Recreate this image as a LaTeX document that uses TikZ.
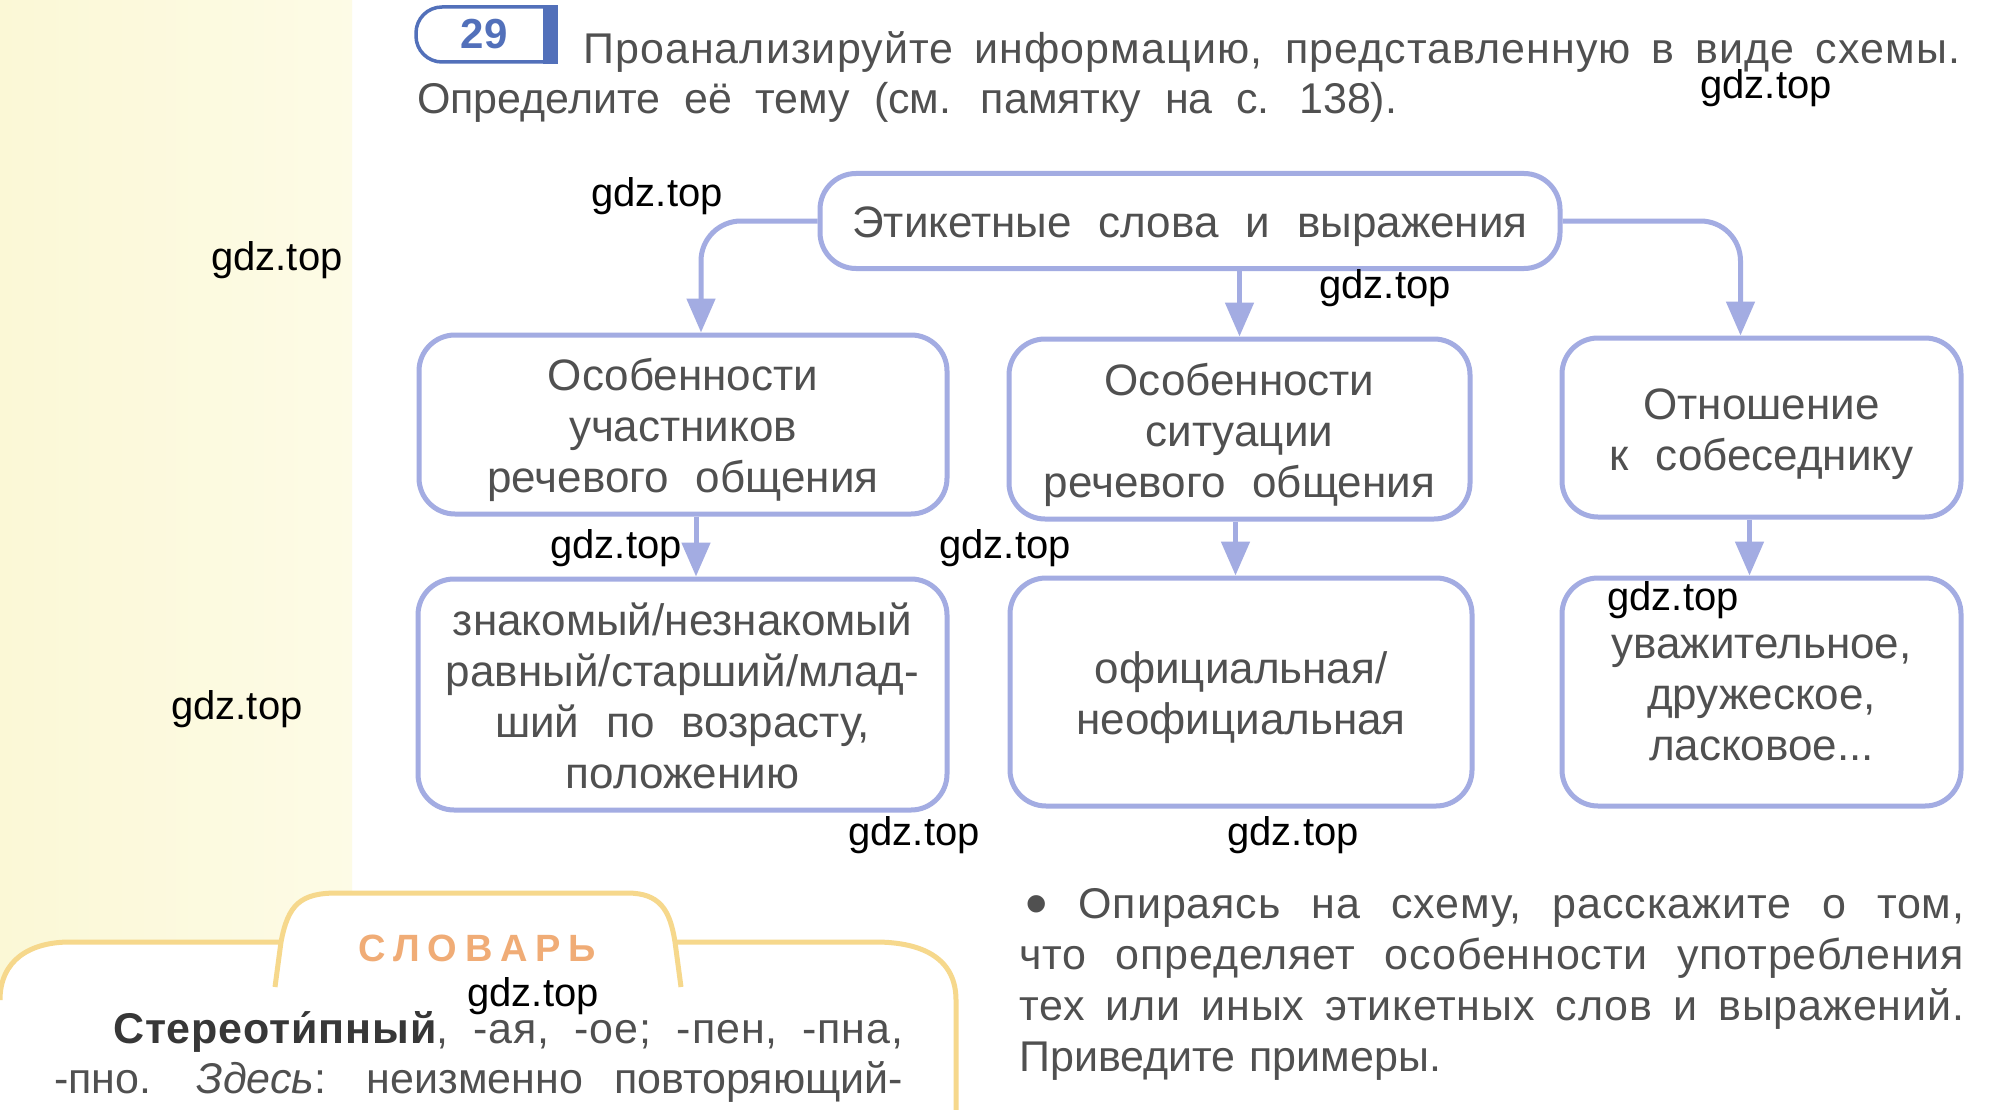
\documentclass[tikz,border=0pt]{standalone}
\usepackage{fontspec}
\setmainfont{Liberation Sans}[WordSpace=2.2]
\newfontfamily\wmfont{Liberation Sans}
\usetikzlibrary{arrows.meta}

\definecolor{boxline}{RGB}{163,172,226}
\definecolor{txt}{RGB}{80,80,80}
\definecolor{boldtxt}{RGB}{55,55,55}
\definecolor{numblue}{RGB}{82,112,186}
\definecolor{slovline}{RGB}{246,216,140}
\definecolor{slovtxt}{RGB}{240,172,118}
\definecolor{stripA}{RGB}{251,248,214}
\definecolor{stripB}{RGB}{253,251,230}
\newcommand\fstrut{\rule{0pt}{50pt}}

\begin{document}
\begin{tikzpicture}[x=1pt,y=-1pt,
  box/.style={draw=boxline, line width=5pt, rounded corners=36pt, inner sep=0pt,
    align=center, text=txt, fill=white, font=\fontsize{44}{51}\selectfont},
  arr/.style={draw=boxline, line width=5pt, rounded corners=40pt,
    -{Triangle[width=28pt,length=34pt]}},
  txtline/.style={anchor=base west, inner sep=0pt, text=txt, font=\fontsize{43}{51}\selectfont},
  wm/.style={inner sep=0pt, text=black, font=\wmfont\fontsize{40}{48}\selectfont},
  slovedge/.style={draw=slovline, line width=5pt}
]
\useasboundingbox (0,0) rectangle (2009,1110);
% background
\fill[white] (0,0) rectangle (2009,1110);
\shade[left color=stripA, right color=stripB] (0,0) rectangle (352,1110);

% dictionary panel
\fill[white] (0,1000) .. controls (0,960) and (30,942) .. (70,942) -- (281,942)
  .. controls (288,905) and (300,893) .. (337,893) -- (627,893)
  .. controls (660,893) and (670,910) .. (675,942) -- (875,942)
  .. controls (925,942) and (956,960) .. (956,1000) -- (956,1110) -- (0,1110) -- cycle;
\draw[slovedge] (0,1000) .. controls (0,960) and (30,942) .. (70,942) -- (279,942);
\draw[slovedge] (275,987) -- (281,942) .. controls (288,905) and (300,893) .. (337,893)
  -- (627,893) .. controls (660,893) and (670,910) .. (675,942) -- (681,987);
\draw[slovedge] (677,942) -- (875,942) .. controls (925,942) and (956,960) .. (956,1000) -- (956,1110);
\node[anchor=base west, inner sep=0pt, text=slovtxt, font=\bfseries\fontsize{38}{38}\selectfont] (slov) at (358,961)
  {\makebox[238pt][s]{С\hfil Л\hfil О\hfil В\hfil А\hfil Р\hfil Ь}};
\node[txtline] (s1) at (113,1043)
  {\makebox[790pt][s]{\addfontfeature{LetterSpace=2}\textbf{\color{boldtxt}Стереоти́пный}, -ая, -ое; -пен, -пна,}};
\node[txtline] (s2) at (54,1093)
  {\makebox[849pt][s]{-пно. \textit{Здесь}: неизменно повторяющий-}};

% exercise number
\draw[numblue, line width=3.5pt, rounded corners=26pt] (550,7) -- (416,7) -- (416,62) -- (550,62);
\fill[numblue] (543,5) rectangle (558,64);
\node[inner sep=0pt, text=numblue, font=\bfseries\fontsize{42}{42}\selectfont] (num) at (484,34) {29};

% title
\node[txtline] (t1) at (583,64)
  {\makebox[1377pt][s]{\addfontfeature{LetterSpace=2.5}Проанализируйте информацию, представленную в виде схемы.}};
\node[txtline] (t2) at (417,114)
  {\makebox[980pt][s]{Определите её тему (см. памятку на с. 138).}};

% scheme
\node[box, minimum width=740pt, minimum height=95pt, text height=40pt, text depth=8pt] (T) at (1190,221)
  {Этикетные слова и выражения};
\node[box, minimum width=528pt, minimum height=179pt] (A) at (683,424.5)
  {\fstrut\strut Особенности\\ \strut участников\\ \strut речевого общения};
\node[box, minimum width=461pt, minimum height=180pt] (B) at (1239.5,429)
  {\fstrut\strut Особенности\\ \strut ситуации\\ \strut речевого общения};
\node[box, minimum width=399pt, minimum height=179pt] (C) at (1761.5,427.5)
  {\fstrut\strut Отношение\\ \strut к собеседнику};
\node[box, minimum width=529pt, minimum height=231pt] (D) at (682.5,694.5)
  {\fstrut\strut знакомый/незнакомый\\ \strut равный/старший/млад-\\ \strut ший по возрасту,\\ \strut положению};
\node[box, minimum width=462pt, minimum height=228pt] (E) at (1241,692)
  {\fstrut\strut официальная/\\ \strut неофициальная};
\node[box, minimum width=399pt, minimum height=228pt] (F) at (1761.5,692)
  {\fstrut\strut уважительное,\\ \strut дружеское,\\ \strut ласковое...};

\draw[arr] (T.west) -| ([xshift=18pt]A.north);
\draw[arr] (T.south -| B.north) -- (B.north);
\draw[arr] (T.east) -| ([xshift=-21pt]C.north);
\draw[arr] ([xshift=13pt]A.south) -- ([xshift=13pt]A.south |- D.north);
\draw[arr] ([xshift=-4pt]B.south) -- ([xshift=-4pt]B.south |- E.north);
\draw[arr] ([xshift=-12pt]C.south) -- ([xshift=-12pt]C.south |- F.north);

% question
\node[txtline] (p1) at (1025,918) {\makebox[939pt][s]{\addfontfeature{LetterSpace=2}\raisebox{-7pt}{\fontsize{64}{64}\selectfont•} Опираясь на схему, расскажите о том,}};
\node[txtline] (p2) at (1019,969) {\makebox[945pt][s]{\addfontfeature{LetterSpace=2}что определяет особенности употребления}};
\node[txtline] (p3) at (1019,1020) {\makebox[945pt][s]{\addfontfeature{LetterSpace=2}тех или иных этикетных слов и выражений.}};
\node[txtline] (p4) at (1019,1071) {Приведите\hspace{14pt}примеры.};

% watermarks
\node[wm] (w1) at (1766,88) {gdz.top};
\node[wm] (w2) at (657,196) {gdz.top};
\node[wm] (w3) at (277,260) {gdz.top};
\node[wm] (w4) at (1385,288) {gdz.top};
\node[wm] (w5) at (616,548) {gdz.top};
\node[wm] (w6) at (1005,548) {gdz.top};
\node[wm] (w7) at (1673,600) {gdz.top};
\node[wm] (w8) at (237,709) {gdz.top};
\node[wm] (w9) at (914,835) {gdz.top};
\node[wm] (w10) at (1293,835) {gdz.top};
\node[wm] (w11) at (533,996) {gdz.top};
\end{tikzpicture}
\end{document}
